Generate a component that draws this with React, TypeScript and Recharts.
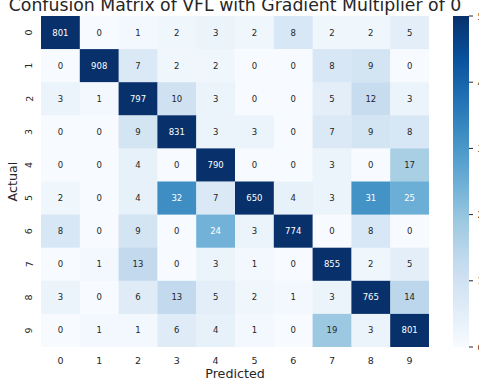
import React from 'react';
import { ScatterChart, Scatter, XAxis, YAxis, Customized } from 'recharts';

const predictedLabels = ['0', '1', '2', '3', '4', '5', '6', '7', '8', '9'];
const actualLabels = ['0', '1', '2', '3', '4', '5', '6', '7', '8', '9'];

const row0 = [801, 0, 1, 2, 3, 2, 8, 2, 2, 5];
const row1 = [0, 908, 7, 2, 2, 0, 0, 8, 9, 0];
const row2 = [3, 1, 797, 10, 3, 0, 0, 5, 12, 3];
const row3 = [0, 0, 9, 831, 3, 3, 0, 7, 9, 8];
const row4 = [0, 0, 4, 0, 790, 0, 0, 3, 0, 17];
const row5 = [2, 0, 4, 32, 7, 650, 4, 3, 31, 25];
const row6 = [8, 0, 9, 0, 24, 3, 774, 0, 8, 0];
const row7 = [0, 1, 13, 0, 3, 1, 0, 855, 2, 5];
const row8 = [3, 0, 6, 13, 5, 2, 1, 3, 765, 14];
const row9 = [0, 1, 1, 6, 4, 1, 0, 19, 3, 801];

const colorbarTicks = [0, 10, 20, 30, 40, 50];
const VMIN = 0;
const VMAX = 50;

const title = 'Confusion Matrix of VFL with Gradient Multiplier of 0';
const xTitle = 'Predicted';
const yTitle = 'Actual';

const rows = [row0, row1, row2, row3, row4, row5, row6, row7, row8, row9];

const cells = rows.flatMap((r, i) =>
  r.map((v, j) => ({ x: j + 0.5, y: i + 0.5, v }))
);

// layout constants
const W = 479;
const H = 387;
const PLOT_L = 41;
const PLOT_R = 429;
const PLOT_T = 16;
const PLOT_B = 347;
const CW = (PLOT_R - PLOT_L) / 10;
const CH = (PLOT_B - PLOT_T) / 10;
const FONT = '"DejaVu Sans", sans-serif';
const DARK = '#262626';

const BLUES = ['#f7fbff', '#deebf7', '#c6dbef', '#9ecae1', '#6baed6', '#4292c6', '#2171b5', '#08519c', '#08306b'];

function hexToRgb(h: string) {
  return [parseInt(h.slice(1, 3), 16), parseInt(h.slice(3, 5), 16), parseInt(h.slice(5, 7), 16)];
}

function bluesRgb(t: number) {
  const tt = Math.max(0, Math.min(1, t));
  const pos = tt * (BLUES.length - 1);
  const i = Math.min(BLUES.length - 2, Math.floor(pos));
  const f = pos - i;
  const a = hexToRgb(BLUES[i]);
  const b = hexToRgb(BLUES[i + 1]);
  return a.map((c, k) => Math.round(c + (b[k] - c) * f));
}

function lum(rgb: number[]) {
  const c = rgb.map((x) => {
    const s = x / 255;
    return s <= 0.03928 ? s / 12.92 : Math.pow((s + 0.055) / 1.055, 2.4);
  });
  return 0.2126 * c[0] + 0.7152 * c[1] + 0.0722 * c[2];
}

const CellShape = (props: any) => {
  const { cx, cy, payload } = props;
  const rgb = bluesRgb((payload.v - VMIN) / (VMAX - VMIN));
  const fill = `rgb(${rgb[0]},${rgb[1]},${rgb[2]})`;
  const txt = lum(rgb) > 0.408 ? DARK : '#ffffff';
  return (
    <g>
      <rect x={cx - CW / 2} y={cy - CH / 2} width={CW + 0.4} height={CH + 0.4} fill={fill} />
      <text x={cx} y={cy} textAnchor="middle" dominantBaseline="central" fontSize={8.5} fontFamily={FONT} fill={txt}>
        {payload.v}
      </text>
    </g>
  );
};

const XTick = (props: any) => {
  const { x, payload } = props;
  const idx = Math.floor(payload.value);
  return (
    <text x={x} y={360} textAnchor="middle" dominantBaseline="central" fontSize={9.5} fontFamily={FONT} fill={DARK}>
      {predictedLabels[idx]}
    </text>
  );
};

const YTick = (props: any) => {
  const { y, payload } = props;
  const idx = Math.floor(payload.value);
  return (
    <text
      x={29}
      y={y}
      textAnchor="middle"
      dominantBaseline="central"
      fontSize={9.5}
      fontFamily={FONT}
      fill={DARK}
      transform={`rotate(-90, 29, ${y})`}
    >
      {actualLabels[idx]}
    </text>
  );
};

const Decorations = () => {
  const cbL = 453;
  const cbR = 469;
  return (
    <g>
      <defs>
        <linearGradient id="cbGrad" x1="0" y1="1" x2="0" y2="0">
          {BLUES.map((c, i) => (
            <stop key={i} offset={i / (BLUES.length - 1)} stopColor={c} />
          ))}
        </linearGradient>
      </defs>
      <text x={235} y={11} textAnchor="middle" fontSize={17.3} fontFamily={FONT} fill={DARK}>
        {title}
      </text>
      <text x={235} y={373} textAnchor="middle" dominantBaseline="central" fontSize={12.7} fontFamily={FONT} fill={DARK}>
        {xTitle}
      </text>
      <text
        x={12}
        y={181.5}
        textAnchor="middle"
        dominantBaseline="central"
        fontSize={12.7}
        fontFamily={FONT}
        fill={DARK}
        transform="rotate(-90, 12, 181.5)"
      >
        {yTitle}
      </text>
      <rect x={cbL} y={PLOT_T} width={cbR - cbL} height={PLOT_B - PLOT_T} fill="url(#cbGrad)" />
      {colorbarTicks.map((t) => {
        const y = PLOT_B - ((t - VMIN) / (VMAX - VMIN)) * (PLOT_B - PLOT_T);
        return (
          <g key={t}>
            <line x1={cbR} x2={cbR + 4} y1={y} y2={y} stroke={DARK} strokeWidth={1} />
            <text x={cbR + 8.5} y={y} dominantBaseline="central" fontSize={9.5} fontFamily={FONT} fill={DARK}>
              {t}
            </text>
          </g>
        );
      })}
    </g>
  );
};

const tickPositions = predictedLabels.map((_, i) => i + 0.5);

export default function App() {
  return (
    <div style={{ position: 'absolute', left: 0, top: 0, width: W, height: H, background: '#ffffff' }}>
      <ScatterChart width={W} height={H} margin={{ top: PLOT_T, right: W - PLOT_R, bottom: 0, left: PLOT_L - 30 }}>
        <XAxis
          type="number"
          dataKey="x"
          domain={[0, 10]}
          ticks={tickPositions}
          interval={0}
          height={H - PLOT_B}
          axisLine={false}
          tickLine={false}
          tick={<XTick />}
          allowDataOverflow
        />
        <YAxis
          type="number"
          dataKey="y"
          domain={[0, 10]}
          reversed
          ticks={tickPositions}
          interval={0}
          width={30}
          axisLine={false}
          tickLine={false}
          tick={<YTick />}
          allowDataOverflow
        />
        <Scatter data={cells} shape={<CellShape />} isAnimationActive={false} />
        <Customized component={<Decorations />} />
      </ScatterChart>
    </div>
  );
}
